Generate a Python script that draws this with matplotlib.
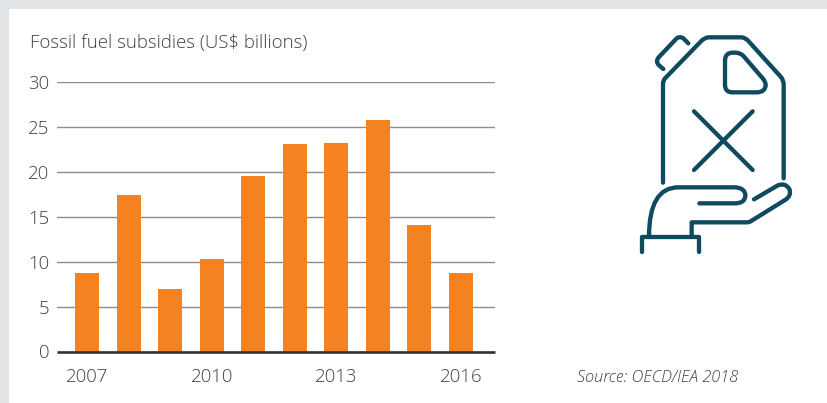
import matplotlib
matplotlib.use("Agg")
import matplotlib.pyplot as plt
from matplotlib.patches import PathPatch, Rectangle
from matplotlib.path import Path

# Fossil fuel subsidies per year
years = [2007, 2008, 2009, 2010, 2011, 2012, 2013, 2014, 2015, 2016]
subsidies = [8.7, 17.4, 7.0, 10.3, 19.5, 23.1, 23.2, 25.8, 14.1, 8.7]
y_ticks = [0, 5, 10, 15, 20, 25, 30]
x_ticks = [2007, 2010, 2013, 2016]

title = "Fossil fuel subsidies (US$ billions)"
source = "Source: OECD/IEA 2018"

W, H = 828, 403
ORANGE = "#f58220"
TEAL = "#0f4a5f"
TEXT = "#404040"

plt.rcParams["font.family"] = ["Open Sans", "DejaVu Sans"]
plt.rcParams["font.weight"] = "light"

fig = plt.figure(figsize=(W / 100, H / 100), dpi=100, facecolor="white")

# page background: grey margin on the top and the left
bg = fig.add_axes([0, 0, 1, 1])
bg.set_xlim(0, W)
bg.set_ylim(H, 0)
bg.axis("off")
bg.add_patch(Rectangle((0, 0), W, 9, color="#e1e5e8", lw=0))
bg.add_patch(Rectangle((0, 0), 9, H, color="#e1e5e8", lw=0))

# bar chart
left, right, top, bottom = 57, 495, 82, 351.5
ax = fig.add_axes([left / W, 1 - bottom / H, (right - left) / W, (bottom - top) / H])
ax.patch.set_alpha(0)
ax.bar(years, subsidies, width=0.578, color=ORANGE, zorder=3)
ax.set_xlim(2006.278, 2016.817)
ax.set_ylim(0, 30)
ax.set_yticks(y_ticks)
ax.set_xticks(x_ticks)
ax.tick_params(length=0, labelsize=13.4, labelcolor=TEXT)
ax.tick_params(axis="x", pad=12)
ax.tick_params(axis="y", pad=5.5)
ax.grid(axis="y", color="#8c8c8c", lw=1.0, zorder=1)
for name in ["top", "right", "left"]:
    ax.spines[name].set_visible(False)
ax.spines["bottom"].set_color("#333333")
ax.spines["bottom"].set_linewidth(1.9)
ax.spines["bottom"].set_capstyle("butt")
ax.spines["bottom"].set_zorder(5)

bg.text(30, 43, title, fontsize=13.4, color=TEXT, va="center", ha="left")
bg.text(577, 378, source, fontsize=11.8, color=TEXT, style="italic", va="center", ha="left")


# icon: fuel can held on an open hand
def icon_xy(x, y):
    return 620 + x / 3, 20 + y / 3


def stroke(*segments):
    # each segment is a point, or a (control, end) pair for a curve
    verts, codes = [], []
    for i, seg in enumerate(segments):
        if isinstance(seg[0], tuple):
            verts += [icon_xy(*seg[0]), icon_xy(*seg[1])]
            codes += [Path.CURVE3, Path.CURVE3]
        else:
            verts.append(icon_xy(*seg))
            codes.append(Path.MOVETO if i == 0 else Path.LINETO)
    bg.add_patch(PathPatch(Path(verts, codes), fill=False, edgecolor=TEAL, lw=3.1,
                           capstyle="round", joinstyle="round"))


# can body
stroke((129, 488), (129, 192), ((129, 180), (137, 173)), (243, 64), ((254, 52), (266, 52)),
       (362, 52), ((376, 52), (386, 64)), (482, 170), ((491, 180), (491, 194)), (491, 475))
# cap
stroke((205, 70), (190, 55), ((180, 48), (170, 55)), (116, 112), ((106, 124), (116, 135)), (130, 147))
# label window
stroke((315, 122), (315, 195), ((315, 217), (337, 217)), (410, 217), ((436, 217), (437, 195)),
       ((437, 185), (428, 175)), (372, 110), ((362, 98), (345, 98)), (338, 98), ((315, 98), (315, 122)))
# cross
stroke((222, 274), (398, 450))
stroke((398, 274), (222, 450))
# hand
stroke((87, 650), ((87, 502), (175, 502)), (345, 502), ((376, 504), (376, 526)),
       ((376, 550), (345, 550)), (238, 550))
stroke((402, 538), (472, 497), ((495, 486), (508, 507)), ((516, 527), (495, 540)), (392, 604),
       ((388, 607), (380, 607)), (215, 607), (215, 650))
# cuff
stroke((67, 695), (67, 652), (237, 652), (237, 695))

fig.savefig("out.png", dpi=100)
